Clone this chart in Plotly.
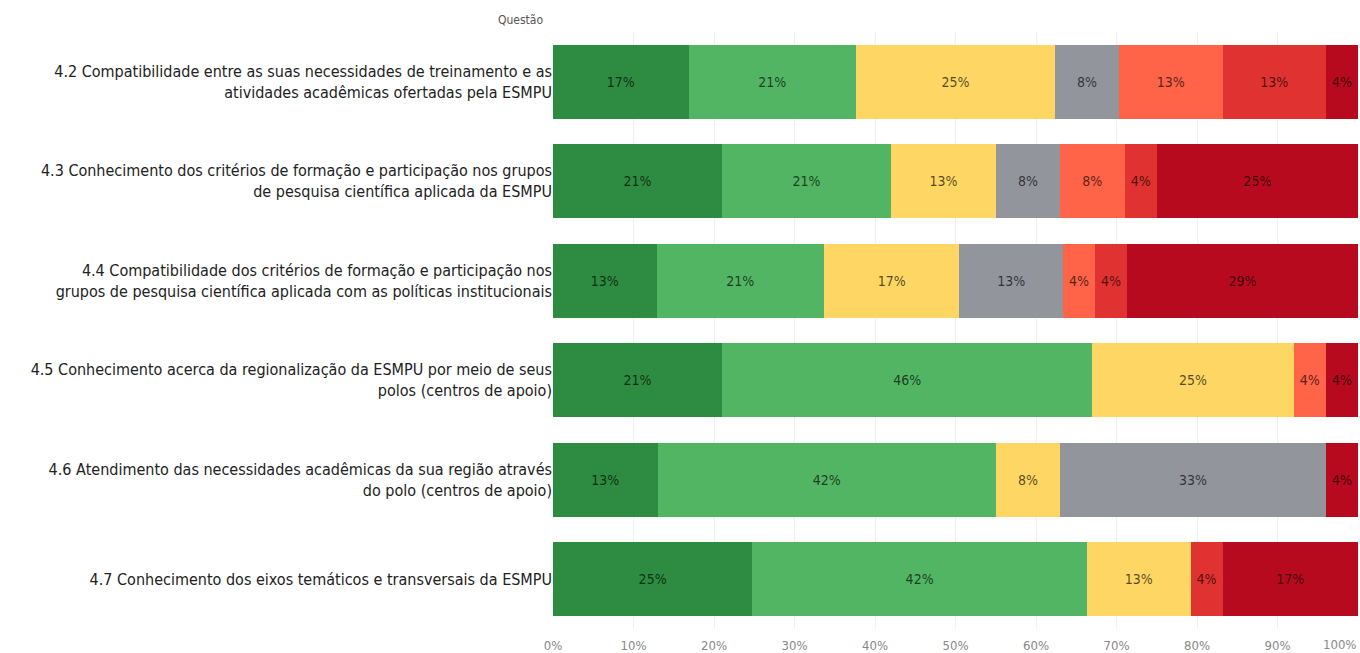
import plotly.graph_objects as go

questoes = [
    "4.2 Compatibilidade entre as suas necessidades de treinamento e as<br>atividades acadêmicas ofertadas pela ESMPU",
    "4.3 Conhecimento dos critérios de formação e participação nos grupos<br>de pesquisa científica aplicada da ESMPU",
    "4.4 Compatibilidade dos critérios de formação e participação nos<br>grupos de pesquisa científica aplicada com as políticas institucionais",
    "4.5 Conhecimento acerca da regionalização da ESMPU por meio de seus<br>polos (centros de apoio)",
    "4.6 Atendimento das necessidades acadêmicas da sua região através<br>do polo (centros de apoio)",
    "4.7 Conhecimento dos eixos temáticos e transversais da ESMPU",
]

# percentual por resposta (da melhor para a pior avaliacao)
resp_1 = [17, 21, 13, 21, 13, 25]
resp_2 = [21, 21, 21, 46, 42, 42]
resp_3 = [25, 13, 17, 25, 8, 13]
resp_4 = [8, 8, 13, 0, 33, 0]
resp_5 = [13, 8, 4, 4, 0, 0]
resp_6 = [13, 4, 4, 0, 0, 4]
resp_7 = [4, 25, 29, 4, 4, 17]

ticks_x = [0, 10, 20, 30, 40, 50, 60, 70, 80, 90, 100]

series = [resp_1, resp_2, resp_3, resp_4, resp_5, resp_6, resp_7]
cores = ["#2E8C42", "#52B564", "#FDD664", "#92959C", "#FF6348", "#E03230", "#B70A1E"]

fonte = "DejaVu Sans Condensed, Liberation Sans Narrow, sans-serif"

fig = go.Figure()

for i, (vals, cor) in enumerate(zip(series, cores)):
    fig.add_trace(go.Bar(
        y=questoes,
        x=vals,
        orientation="h",
        marker=dict(color=cor, line_width=0),
        text=[f"{v}%" if v > 0 else "" for v in vals],
        textposition="inside",
        insidetextanchor="middle",
        constraintext="none",
        textfont=dict(family=fonte, size=14, color="rgba(0,0,0,0.68)"),
        name=f"Resposta {i + 1}",
        hoverinfo="skip",
    ))

fig.add_annotation(
    text="Questão", xref="paper", yref="paper",
    x=-0.01, y=1.02, xanchor="right", yanchor="middle",
    showarrow=False, font=dict(family=fonte, size=12, color="#555555"),
)
# ultimo rotulo do eixo x alinhado a direita, como no original
fig.add_annotation(
    text=f"{ticks_x[-1]}%", xref="x", yref="paper",
    x=ticks_x[-1], y=0, yshift=-15, xanchor="right", yanchor="middle",
    showarrow=False, font=dict(family=fonte, size=13, color="#888888"),
)

fig.update_layout(
    barmode="stack",
    barnorm="percent",
    bargap=0.26,
    showlegend=False,
    width=1360, height=653,
    margin=dict(l=553, r=2, t=32, b=24),
    plot_bgcolor="white",
    paper_bgcolor="white",
    font=dict(family=fonte),
    uniformtext=dict(minsize=13, mode="show"),
    xaxis=dict(
        range=[0, 100], tickmode="array", tickvals=ticks_x,
        ticktext=[f"{v}%" for v in ticks_x[:-1]] + [""],
        showgrid=True, gridcolor="#F0F0F4", zeroline=False,
        tickfont=dict(family=fonte, size=13, color="#888888"),
        ticklabelstandoff=7,
        automargin=False, fixedrange=True,
    ),
    yaxis=dict(
        autorange="reversed", showgrid=False, ticks="", ticklen=0,
        tickfont=dict(family=fonte, size=16, color="#222222"),
        automargin=False, fixedrange=True,
    ),
)

fig.write_html(
    "out.html",
    config={"displayModeBar": False},
    post_script="document.body.style.margin='0';",
)
